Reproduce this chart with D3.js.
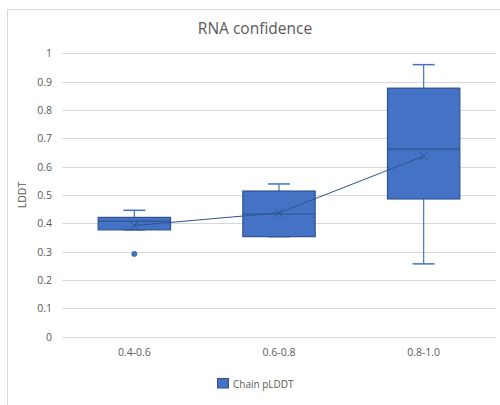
<!DOCTYPE html>
<html>
<head>
<meta charset="utf-8">
<script src="https://cdn.jsdelivr.net/npm/d3@7/dist/d3.min.js"></script>
<style>
  html, body { margin: 0; padding: 0; background: #fff; }
  svg { display: block; }
  text { font-family: "Open Sans", sans-serif; fill: #595959; }
</style>
</head>
<body>
<svg id="chart" width="500" height="405"></svg>
<script>
const categories = ["0.4-0.6", "0.6-0.8", "0.8-1.0"];
const whiskerMin = [0.377, 0.353, 0.257];
const q1Values   = [0.377, 0.353, 0.486];
const medians    = [0.408, 0.433, 0.662];
const q3Values   = [0.421, 0.514, 0.877];
const whiskerMax = [0.446, 0.539, 0.960];
const means      = [0.392, 0.437, 0.637];
const outliers   = [[0.292], [], []];
const yTicks     = [0, 0.1, 0.2, 0.3, 0.4, 0.5, 0.6, 0.7, 0.8, 0.9, 1];
const seriesName = "Chain pLDDT";
const chartTitle = "RNA confidence";
const yTitle = "LDDT";

(function () {
const data = categories.map((c, i) => ({
  cat: c, min: whiskerMin[i], q1: q1Values[i], med: medians[i],
  q3: q3Values[i], max: whiskerMax[i], mean: means[i], out: outliers[i]
}));

const svg = d3.select("#chart");
const fill = "#4472C4", dark = "#2F528F";

// outer border (top & left visible)
svg.append("path").attr("d", "M7.5,405 L7.5,9.5 L500,9.5")
  .attr("fill", "none").attr("stroke", "#d9d9d9").attr("stroke-width", 1);

const pLeft = 62, pRight = 496, pTop = 53.3, pBottom = 336.7;
const x = d3.scaleBand().domain(categories).range([pLeft, pRight]).paddingInner(0).paddingOuter(0);
const y = d3.scaleLinear().domain([0, 1]).range([pBottom, pTop]);

// gridlines
svg.append("g").selectAll("line").data(yTicks).join("line")
  .attr("x1", pLeft).attr("x2", pRight)
  .attr("y1", d => Math.round(y(d)) + 0.5).attr("y2", d => Math.round(y(d)) + 0.5)
  .attr("stroke", "#d9d9d9").attr("stroke-width", 1);

// y axis labels
const yAxis = d3.axisLeft(y).tickValues(yTicks).tickSize(0).tickPadding(10).tickFormat(d => d3.format("")(d));
const gy = svg.append("g").attr("transform", `translate(${pLeft},0)`).call(yAxis);
gy.select(".domain").remove();
gy.selectAll("text").attr("font-size", 10.5).attr("fill", "#595959").style("font-family", "'Open Sans', sans-serif");

// x axis labels
const xAxis = d3.axisBottom(x).tickSize(0).tickPadding(12);
const gx = svg.append("g").attr("transform", `translate(0,${pBottom})`).call(xAxis);
gx.select(".domain").remove();
gx.selectAll("text").attr("font-size", 10.5).attr("fill", "#595959").style("font-family", "'Open Sans', sans-serif");

const bw = x.bandwidth() * 0.5;
const capW = 22;
const g = svg.append("g");
const box = g.selectAll("g.box").data(data).join("g").attr("class", "box")
  .attr("transform", d => `translate(${x(d.cat) + x.bandwidth() / 2},0)`);

// whiskers
box.append("line").attr("x1", 0).attr("x2", 0).attr("y1", d => y(d.q3)).attr("y2", d => y(d.max))
  .attr("stroke", fill).attr("stroke-width", 1.2);
box.append("line").attr("x1", 0).attr("x2", 0).attr("y1", d => y(d.q1)).attr("y2", d => y(d.min))
  .attr("stroke", fill).attr("stroke-width", 1.2);
box.append("line").attr("x1", -capW / 2).attr("x2", capW / 2).attr("y1", d => y(d.max)).attr("y2", d => y(d.max))
  .attr("stroke", fill).attr("stroke-width", 1.5);
box.append("line").attr("x1", -capW / 2).attr("x2", capW / 2).attr("y1", d => y(d.min)).attr("y2", d => y(d.min))
  .attr("stroke", fill).attr("stroke-width", 1.5);

// boxes
box.append("rect").attr("x", -bw / 2).attr("width", bw)
  .attr("y", d => y(d.q3)).attr("height", d => y(d.q1) - y(d.q3))
  .attr("fill", fill).attr("stroke", dark).attr("stroke-width", 1.2);
box.append("line").attr("x1", -bw / 2).attr("x2", bw / 2).attr("y1", d => y(d.med)).attr("y2", d => y(d.med))
  .attr("stroke", dark).attr("stroke-width", 1.2);

// outliers
box.selectAll("circle").data(d => d.out).join("circle")
  .attr("cx", 0).attr("cy", d => y(d)).attr("r", 2.6).attr("fill", fill).attr("stroke", dark).attr("stroke-width", 0.6);

// mean line
const line = d3.line().x(d => x(d.cat) + x.bandwidth() / 2).y(d => y(d.mean));
g.append("path").datum(data).attr("d", line).attr("fill", "none").attr("stroke", dark).attr("stroke-width", 1);

// mean markers
const ms = 4.5;
box.append("path").attr("d", d => `M${-ms},${y(d.mean) - ms}L${ms},${y(d.mean) + ms}M${-ms},${y(d.mean) + ms}L${ms},${y(d.mean) - ms}`)
  .attr("stroke", dark).attr("stroke-width", 1).attr("fill", "none");

// title
svg.append("text").attr("x", 255).attr("y", 34).attr("text-anchor", "middle")
  .attr("font-size", 15.5).text(chartTitle);

// y title
svg.append("text").attr("transform", `translate(26,${(pTop + pBottom) / 2}) rotate(-90)`)
  .attr("text-anchor", "middle").attr("font-size", 10.5).text(yTitle);

// legend
svg.append("rect").attr("x", 217.5).attr("y", 378.5).attr("width", 11).attr("height", 9.5)
  .attr("fill", fill).attr("stroke", dark).attr("stroke-width", 1);
svg.append("text").attr("x", 233).attr("y", 387.5).attr("font-size", 10).text(seriesName);
})();
</script>
</body>
</html>
